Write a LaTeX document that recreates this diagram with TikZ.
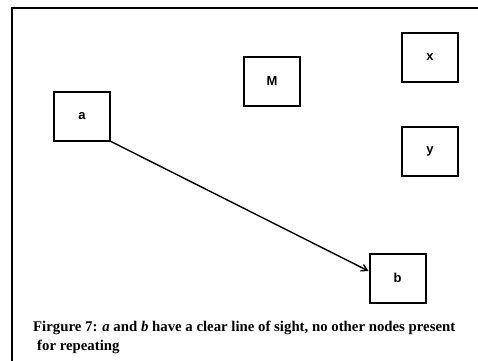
\documentclass[tikz,border=0pt]{standalone}
\usepackage{fontspec}
\setmainfont{Liberation Serif}
\newfontfamily\boxfont{Liberation Sans}
\usetikzlibrary{arrows.meta}
\begin{document}
\begin{tikzpicture}[x=1pt,y=-1pt,
  nodebox/.style={draw,line width=2pt,minimum width=56pt,minimum height=49pt,inner sep=0pt,font=\boxfont\bfseries\fontsize{13}{15}\selectfont},
  link/.style={line width=1.4pt,-{Straight Barb[length=6pt,width=7pt,line width=1.4pt]}},
  caption/.style={anchor=base west,align=left,inner sep=0pt,font=\bfseries\fontsize{14.8}{19}\selectfont}]
\useasboundingbox (0,0) rectangle (478,360);
\begin{scope}
\clip (0,0) rectangle (478,360);
\draw[line width=2pt] (11.5,380) -- (11.5,7.5) -- (500,7.5);
\end{scope}
\node[nodebox] (a) at (82,116) {a};
\node[nodebox] (M) at (272,81) {M};
\node[nodebox] (x) at (430,57) {x};
\node[nodebox] (y) at (430,151.5) {y};
\node[nodebox] (b) at (397.5,278) {b};
\draw[link] (a.south east) -- ([yshift=7pt]b.west);
\node[caption] (cap) at (33,350) {Firgure 7: \textit{a} and \textit{b} have a clear line of sight, no other nodes present\\\hspace*{4pt}for repeating};
\end{tikzpicture}
\end{document}
